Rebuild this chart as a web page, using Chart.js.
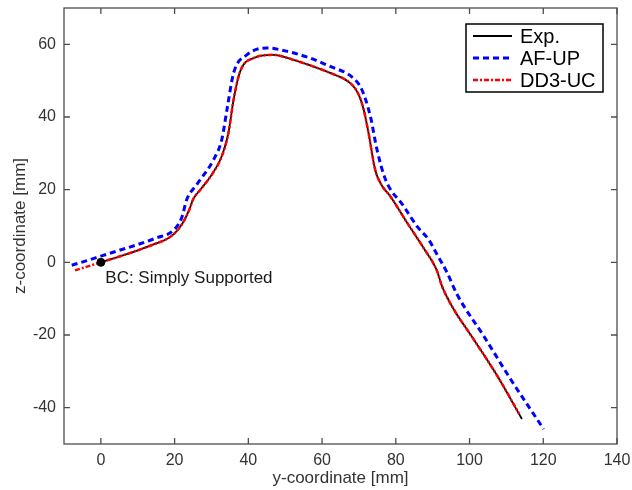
<!DOCTYPE html>
<html lang="en">
<head>
    <meta charset="UTF-8">
    <title>Deformed shape</title>
    <style>
        body { margin: 0; background: #fff; }
        #wrap { width: 632px; height: 490px; }
    </style>
</head>
<body>
    <div id="wrap"><canvas id="shapeChart" width="632" height="490"></canvas></div>

    <script src="https://cdn.jsdelivr.net/npm/chart.js"></script>
    <script>
        // measured section (Exp.)
        var expY = [0, 5, 10, 15, 18, 20, 22, 24, 25, 27, 30, 32.8, 34.6, 36, 37.8, 41.4, 46.8, 52, 56.8, 62, 68.1, 70, 71.3, 72.6, 74.4, 76, 78.5, 83, 87.5, 91.2, 92.5, 95.7, 100.2, 107.5, 114.2];
        var expZ = [0, 1.6, 3.3, 5.2, 6.5, 8, 10.5, 14.5, 17.3, 20, 24, 29.2, 35.6, 44.8, 52.6, 56.2, 57.1, 55.8, 54.2, 52.2, 48.9, 46, 42, 35.6, 25.5, 21.5, 18.2, 11, 4, -2.4, -6.5, -12.9, -19.8, -31.2, -43.1];

        // AF-UP
        var afY = [-7.9, -4, 0, 5, 10, 15, 20, 22, 23.3, 26, 30.6, 32.8, 34.2, 36, 39.6, 45, 50, 56.8, 62, 68.5, 70.8, 73.1, 74.9, 77.2, 82.1, 86, 88.9, 91, 93.9, 96.6, 103.8, 111.1, 120.1];
        var afZ = [-0.8, 0.4, 1.7, 3.3, 4.9, 6.7, 9.1, 12.5, 17.3, 21.4, 28.3, 33.8, 42, 52.1, 57.1, 59, 58.2, 56.2, 54, 50.7, 47.5, 40.2, 31, 22.8, 15.5, 9.6, 6.3, 2.5, -2.8, -8.8, -20.2, -32.1, -45.9];

        // DD3-UC
        var ddY = [-7, -3.5, 0, 5, 10, 15, 18, 20, 22, 24, 25, 27, 30, 32.8, 34.6, 36, 37.8, 41.4, 46.8, 52, 56.8, 62, 68.1, 70, 71.3, 72.6, 74.4, 76, 78.5, 83, 87.5, 91.2, 92.5, 95.7, 100.2, 107.5, 113.5];
        var ddZ = [-2.2, -1.1, 0, 1.6, 3.3, 5.2, 6.5, 8, 10.5, 14.5, 17.3, 20, 24, 29.2, 35.6, 44.8, 52.6, 56.2, 57.1, 55.8, 54.2, 52.2, 48.9, 46, 42, 35.6, 25.5, 21.5, 18.2, 11, 4, -2.4, -6.5, -12.9, -19.8, -31.2, -41.8];

        var bcPoint = [{ x: 0, y: 0 }];
        var xTicks = [0, 20, 40, 60, 80, 100, 120, 140];
        var yTicks = [-40, -20, 0, 20, 40, 60];

        var legendItems = [
            { label: 'Exp.', color: '#000000', width: 2, dash: [] },
            { label: 'AF-UP', color: '#0000ff', width: 3, dash: [6, 4] },
            { label: 'DD3-UC', color: '#ff0000', width: 2.5, dash: [5, 2, 2, 2] }
        ];

        function toPoints(xs, ys) {
            var pts = [];
            for (var i = 0; i < xs.length; i++) {
                pts.push({ x: xs[i], y: ys[i] });
            }
            return pts;
        }

        var FONT = '"Liberation Sans", Arial, sans-serif';

        // box, inward ticks, label and legend
        var framePlugin = {
            id: 'frame',
            afterDatasetsDraw: function (chart) {
                var c = chart.ctx, a = chart.chartArea;
                var xs = chart.scales.x, ys = chart.scales.y;
                var t = 6;
                c.save();
                c.strokeStyle = '#4d4d4d';
                c.lineWidth = 1.3;
                c.setLineDash([]);
                c.strokeRect(a.left, a.top, a.right - a.left, a.bottom - a.top);
                c.beginPath();
                xTicks.forEach(function (v) {
                    var px = xs.getPixelForValue(v);
                    c.moveTo(px, a.bottom); c.lineTo(px, a.bottom - t);
                    c.moveTo(px, a.top); c.lineTo(px, a.top + t);
                });
                yTicks.forEach(function (v) {
                    var py = ys.getPixelForValue(v);
                    c.moveTo(a.left, py); c.lineTo(a.left + t, py);
                    c.moveTo(a.right, py); c.lineTo(a.right - t, py);
                });
                c.stroke();

                // BC annotation
                c.fillStyle = '#1a1a1a';
                c.font = '17px ' + FONT;
                c.textBaseline = 'middle';
                c.fillText('BC: Simply Supported', xs.getPixelForValue(1.2), ys.getPixelForValue(-4.3));

                // legend
                var lx = 466, ly = 24, lw = 137, lh = 68;
                c.fillStyle = '#fff';
                c.fillRect(lx, ly, lw, lh);
                c.strokeStyle = '#000';
                c.lineWidth = 1.5;
                c.strokeRect(lx, ly, lw, lh);
                c.font = '20px ' + FONT;
                legendItems.forEach(function (it, i) {
                    var y = 36 + i * 22;
                    c.beginPath();
                    c.strokeStyle = it.color;
                    c.lineWidth = it.width;
                    c.setLineDash(it.dash);
                    c.moveTo(473, y); c.lineTo(512, y);
                    c.stroke();
                    c.setLineDash([]);
                    c.fillStyle = '#000';
                    c.fillText(it.label, 520, y + 1);
                });
                c.restore();
            }
        };

        var ctx = document.getElementById('shapeChart').getContext('2d');
        var shapeChart = new Chart(ctx, {
            type: 'scatter',
            data: {
                datasets: [
                    {
                        label: 'BC',
                        data: bcPoint,
                        showLine: false,
                        pointRadius: 4,
                        backgroundColor: '#000',
                        borderColor: '#000',
                        order: 0
                    },
                    {
                        label: 'DD3-UC',
                        data: toPoints(ddY, ddZ),
                        showLine: true,
                        borderColor: '#ff0000',
                        borderWidth: 2.5,
                        borderDash: [5, 2, 2, 2],
                        pointRadius: 0,
                        cubicInterpolationMode: 'monotone',
                        order: 1
                    },
                    {
                        label: 'Exp.',
                        data: toPoints(expY, expZ),
                        showLine: true,
                        borderColor: '#000000',
                        borderWidth: 1.8,
                        pointRadius: 0,
                        cubicInterpolationMode: 'monotone',
                        order: 2
                    },
                    {
                        label: 'AF-UP',
                        data: toPoints(afY, afZ),
                        showLine: true,
                        borderColor: '#0000ff',
                        borderWidth: 3,
                        borderDash: [6, 4],
                        pointRadius: 0,
                        cubicInterpolationMode: 'monotone',
                        order: 3
                    }
                ]
            },
            options: {
                responsive: false,
                animation: false,
                layout: { padding: { left: 0, right: 15, top: 8, bottom: 0 } },
                plugins: {
                    legend: { display: false },
                    tooltip: { enabled: false }
                },
                scales: {
                    x: {
                        type: 'linear',
                        min: -10,
                        max: 140,
                        afterBuildTicks: function (s) { s.ticks = xTicks.map(function (v) { return { value: v }; }); },
                        afterFit: function (s) { s.height = 46; s.paddingLeft = 0; s.paddingRight = 0; },
                        grid: { display: false, drawTicks: false },
                        border: { display: false },
                        ticks: { color: '#333', font: { family: FONT, size: 16 }, padding: 7, maxRotation: 0 },
                        title: { display: true, text: 'y-coordinate [mm]', color: '#333', font: { family: FONT, size: 17 }, padding: { top: 0, bottom: 1 } }
                    },
                    y: {
                        type: 'linear',
                        min: -50,
                        max: 70,
                        afterBuildTicks: function (s) { s.ticks = yTicks.map(function (v) { return { value: v }; }); },
                        afterFit: function (s) { s.width = 64; s.paddingTop = 0; s.paddingBottom = 0; },
                        grid: { display: false, drawTicks: false },
                        border: { display: false },
                        ticks: { color: '#333', font: { family: FONT, size: 16 }, padding: 8 },
                        title: { display: true, text: 'z-coordinate [mm]', color: '#333', font: { family: FONT, size: 17 }, padding: { top: 10, bottom: 0 } }
                    }
                }
            },
            plugins: [framePlugin]
        });
    </script>
</body>
</html>
